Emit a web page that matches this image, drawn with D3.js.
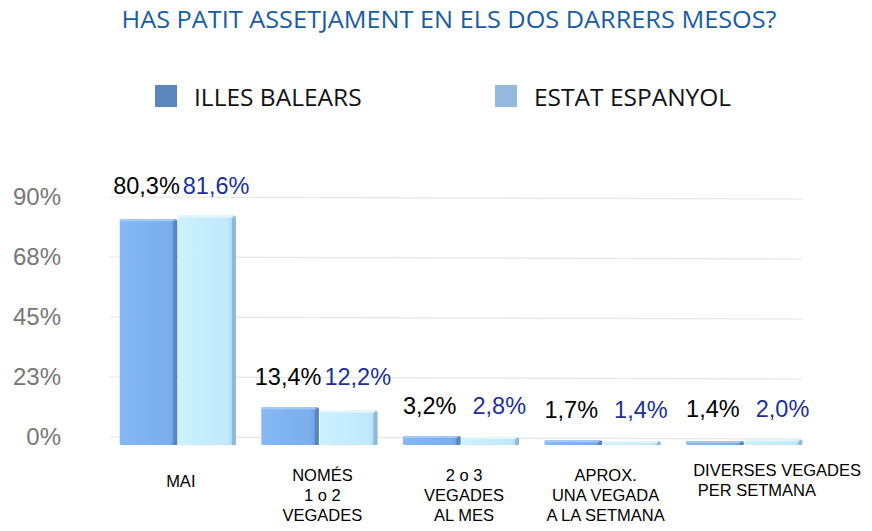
<!DOCTYPE html>
<html>
<head>
<meta charset="utf-8">
<script src="https://cdn.jsdelivr.net/npm/d3@7"></script>
<style>
  body { margin: 0; background: #fff; }
  svg { display: block; }
</style>
</head>
<body>
<svg width="872" height="531"></svg>
<script>
// values
const categories = [
  ["MAI"],
  ["NOMÉS", "1 o 2", "VEGADES"],
  ["2 o 3", "VEGADES", "AL MES"],
  ["APROX.", "UNA VEGADA", "A LA SETMANA"],
  ["DIVERSES VEGADES", "\u00a0PER SETMANA"]
];
const series = ["ILLES BALEARS", "ESTAT ESPANYOL"];
const balears = [80.3, 13.4, 3.2, 1.7, 1.4];
const estat = [81.6, 12.2, 2.8, 1.4, 2.0];
const yTicks = [0, 22.5, 45, 67.5, 90];
const yTickLabels = ["0%", "23%", "45%", "68%", "90%"];

const title = "HAS PATIT ASSETJAMENT EN ELS DOS DARRERS MESOS?";

const svg = d3.select("svg");
const fmt = v => d3.format(".1f")(v).replace(".", ",") + "%";

const x0 = d3.scaleBand()
    .domain(d3.range(categories.length))
    .range([107, 815])
    .paddingInner(0.18)
    .paddingOuter(0.09);

const x1 = d3.scaleBand()
    .domain(series)
    .range([0, x0.bandwidth()])
    .paddingInner(0.02);

// front face of the bars
const y = d3.scaleLinear().domain([0, 90]).range([445, 192]);
// back wall (gridlines and tick labels)
const yWall = d3.scaleLinear().domain([0, 90]).range([437, 197]);

const defs = svg.append("defs");
function grad(id, stops) {
  const g = defs.append("linearGradient").attr("id", id)
      .attr("x1", "0%").attr("x2", "100%").attr("y1", "0%").attr("y2", "0%");
  stops.forEach(s => g.append("stop").attr("offset", s[0]).attr("stop-color", s[1]));
}
grad("gBal", [["0%", "#86b8f4"], ["85%", "#7aaeee"], ["100%", "#6b9bd8"]]);
grad("gEst", [["0%", "#cdf1fe"], ["85%", "#bfe9fc"], ["100%", "#a9d5ef"]]);

// title
svg.append("text")
    .attr("x", 449).attr("y", 28)
    .attr("text-anchor", "middle")
    .attr("font-family", "Open Sans, sans-serif")
    .attr("font-size", 24)
    .attr("textLength", 655)
    .attr("lengthAdjust", "spacingAndGlyphs")
    .attr("fill", "#1a5d9f")
    .text(title);

// legend
const legendX = [155, 495];
const legendColors = ["#5d87bc", "#95b9dd"];
series.forEach((s, i) => {
  svg.append("rect")
      .attr("x", legendX[i]).attr("y", 85)
      .attr("width", 22).attr("height", 22)
      .attr("fill", legendColors[i]);
  svg.append("text")
      .attr("x", legendX[i] + 39).attr("y", 106)
      .attr("font-family", "Open Sans, sans-serif")
      .attr("font-size", 24.5)
      .attr("fill", "#111")
      .text(s);
});

// gridlines
svg.append("g")
  .selectAll("line")
  .data(yTicks)
  .join("line")
    .attr("x1", 110).attr("x2", 802)
    .attr("y1", d => yWall(d)).attr("y2", d => yWall(d) + 2)
    .attr("stroke", "#e6e6e6")
    .attr("stroke-width", 1.2);

// y tick labels
svg.append("g")
  .selectAll("text")
  .data(yTicks)
  .join("text")
    .attr("x", 61)
    .attr("y", d => yWall(d) + 8)
    .attr("text-anchor", "end")
    .attr("font-family", "Liberation Sans, Arial, sans-serif")
    .attr("font-size", 24)
    .attr("fill", "#777")
    .text((d, i) => yTickLabels[i]);

// bars
const rows = categories.map((c, i) => ({ i, vals: [balears[i], estat[i]] }));
const groups = svg.append("g")
  .selectAll("g")
  .data(rows)
  .join("g")
    .attr("transform", d => `translate(${x0(d.i)},0)`);

const fills = ["url(#gBal)", "url(#gEst)"];
const sides = ["#5a86bf", "#90b9d6"];
const tops = ["#a3c9f7", "#e0f7ff"];

groups.each(function(d) {
  const g = d3.select(this);
  d.vals.forEach((v, k) => {
    const bx = x1(series[k]);
    const bw = x1.bandwidth();
    const top = y(v);
    const h = y(0) - top;
    g.append("rect")
        .attr("x", bx).attr("y", top)
        .attr("width", bw).attr("height", h)
        .attr("rx", 1.5)
        .attr("fill", fills[k]);
    g.append("rect")
        .attr("x", bx + bw - 4).attr("y", top + 1)
        .attr("width", 4).attr("height", h - 1)
        .attr("fill", sides[k]);
    g.append("rect")
        .attr("x", bx).attr("y", top)
        .attr("width", bw - 3).attr("height", Math.min(2, h))
        .attr("fill", tops[k]);
  });
  // value labels sit above the taller bar of the group
  const ly = y(d3.max(d.vals)) - 22;
  d.vals.forEach((v, k) => {
    g.append("text")
        .attr("x", x1(series[k]) + x1.bandwidth() / 2 + (k === 1 ? 9 : -2))
        .attr("y", ly)
        .attr("text-anchor", "middle")
        .attr("font-family", "Liberation Sans, Arial, sans-serif")
        .attr("font-size", 23.5)
        .attr("fill", k === 0 ? "#000" : "#1b2f9b")
        .text(fmt(v));
  });
});

// category labels
const firstBaseline = { 1: 487, 2: 476, 3: 481 };
categories.forEach((lines, i) => {
  const last = i === categories.length - 1;
  const cx = last ? x0(i) + 7 : x0(i) + x0.bandwidth() / 2 + 3;
  lines.forEach((ln, j) => {
    svg.append("text")
        .attr("x", cx)
        .attr("y", firstBaseline[lines.length] + j * 20)
        .attr("font-family", "Liberation Sans, Arial, sans-serif")
        .attr("font-size", 16.5)
        .attr("fill", "#000")
        .attr("text-anchor", last ? "start" : "middle")
        .text(ln);
  });
});
</script>
</body>
</html>
